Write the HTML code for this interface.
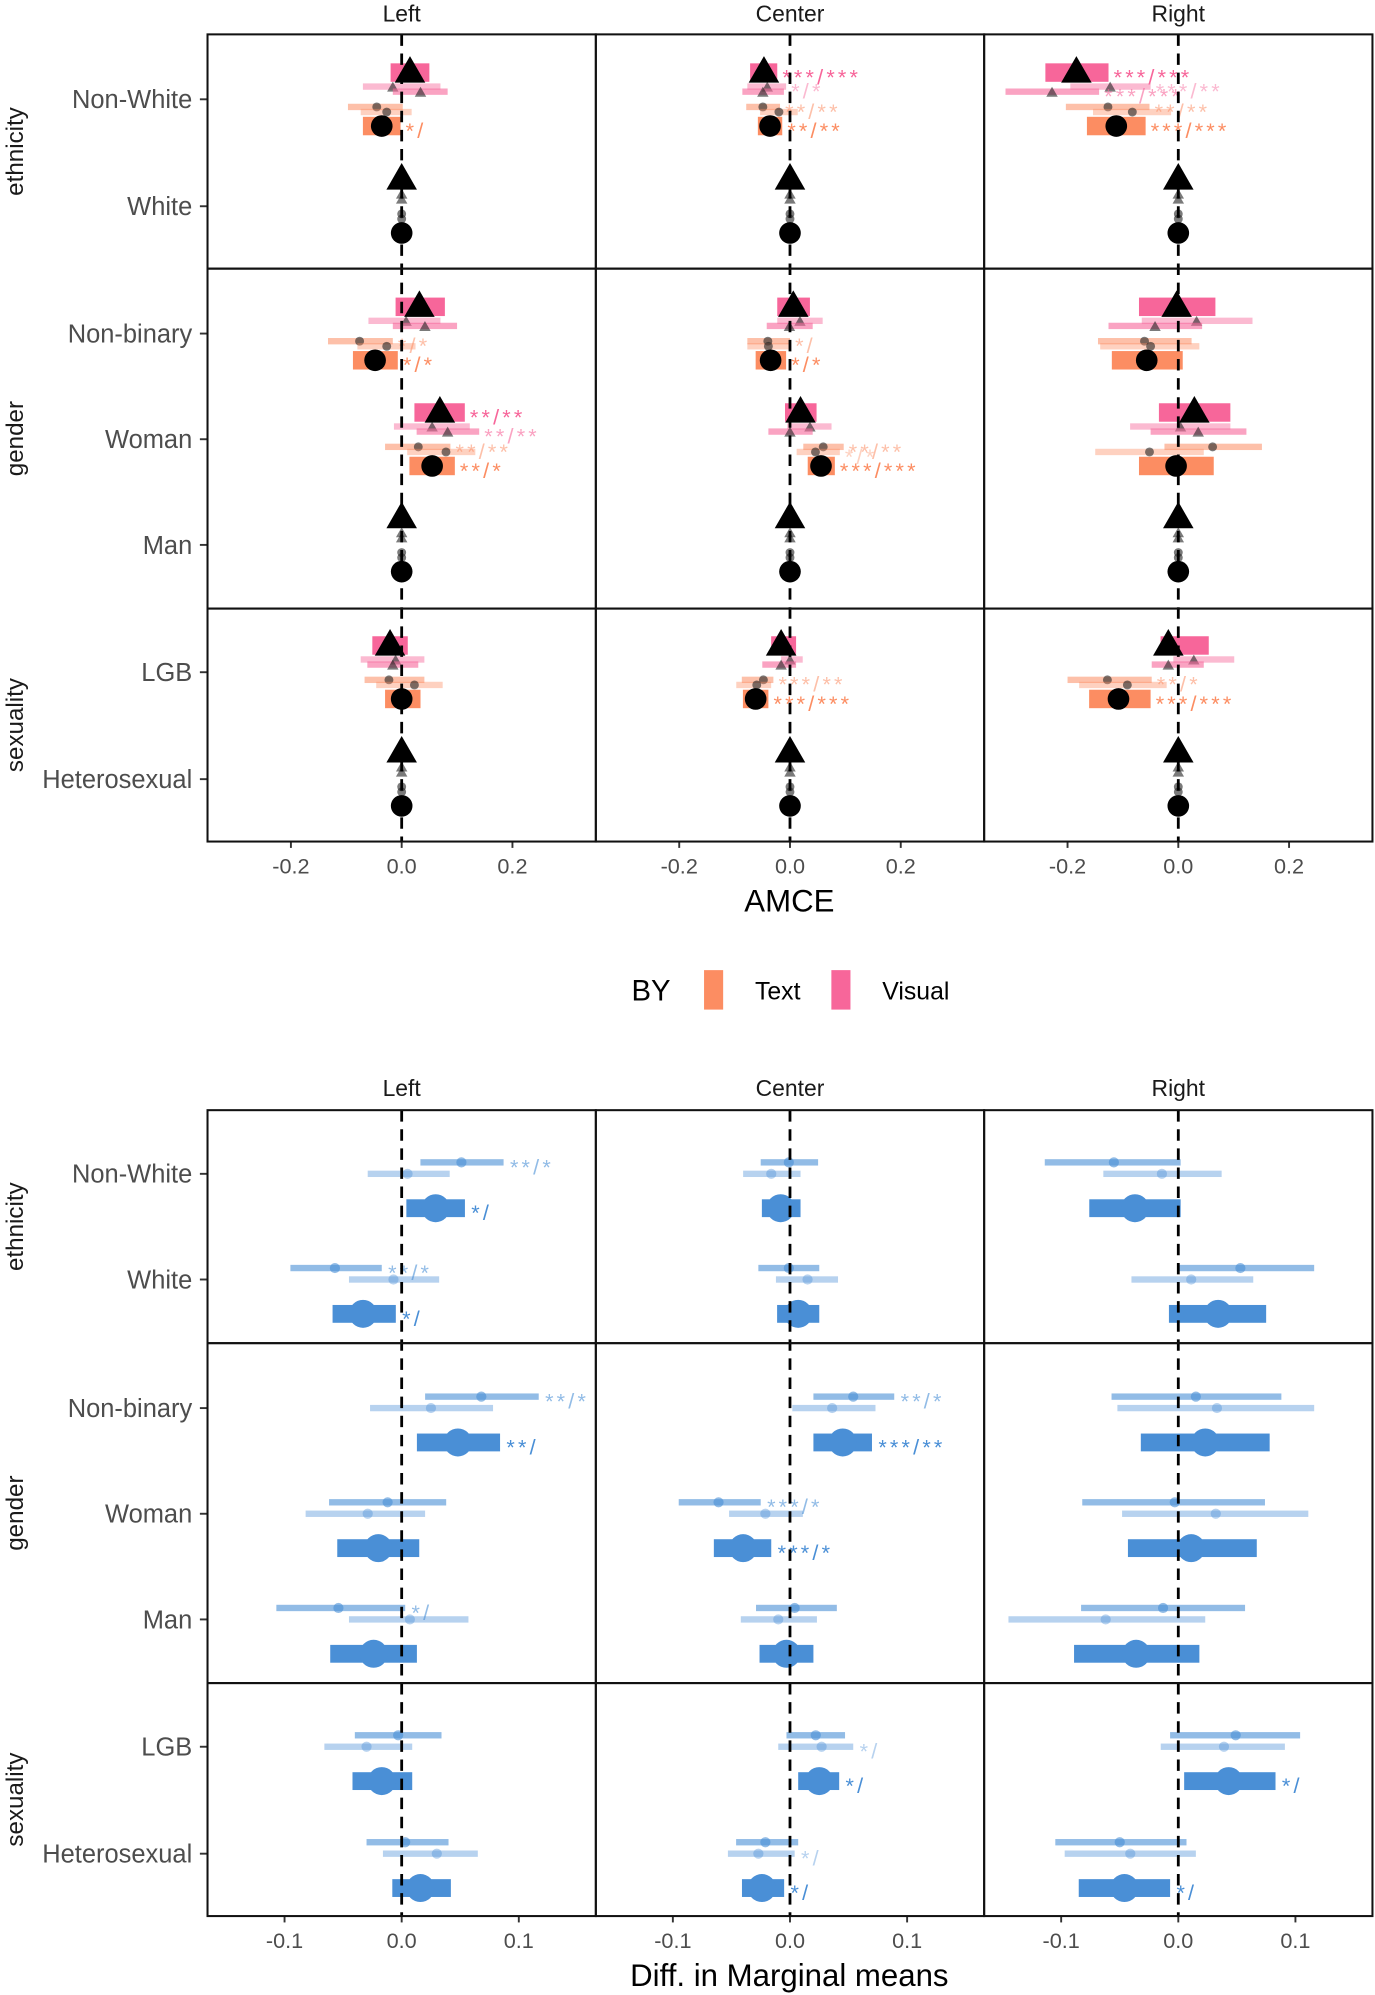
<!DOCTYPE html>
<html><head><meta charset="utf-8">
<style>
html,body{margin:0;padding:0;background:#fff;}
svg{display:block;font-family:"Liberation Sans",sans-serif;}
</style></head>
<body>
<svg id="chart" width="1375" height="1995" viewBox="0 0 1080 1567" preserveAspectRatio="none" xmlns="http://www.w3.org/2000/svg"></svg>
<script>
// ---------- DATA ----------
const columns = ["Left","Center","Right"];
const categories = ["Non-White","White","Non-binary","Woman","Man","LGB","Heterosexual"];
const groups = [["ethnicity",0,2],["gender",2,5],["sexuality",5,7]];
const topTicks = [-0.2,0.0,0.2];
const topTickLabels = ["-0.2","0.0","0.2"];
const botTicks = [-0.1,0.0,0.1];
const botTickLabels = ["-0.1","0.0","0.1"];
// [estimate, lo, hi]; null = reference level
const visualBig = [
 [[0.015,-0.02,0.05],null,[0.032,-0.011,0.078],[0.069,0.023,0.114],null,[-0.021,-0.053,0.011],null],
 [[-0.047,-0.072,-0.023],null,[0.006,-0.023,0.036],[0.019,-0.009,0.048],null,[-0.016,-0.034,0.011],null],
 [[-0.184,-0.24,-0.126],null,[-0.003,-0.071,0.067],[0.029,-0.035,0.094],null,[-0.018,-0.032,0.055],null]];
const visualL1 = [
 [[-0.016,-0.07,0.07],null,[0.008,-0.06,0.07],[0.055,-0.014,0.123],null,[-0.011,-0.074,0.041],null],
 [[-0.041,-0.077,-0.007],null,[0.018,-0.023,0.059],[0.036,-0.005,0.075],null,[0.0,-0.016,0.023],null],
 [[-0.123,-0.195,-0.05],null,[0.033,-0.066,0.134],[0.004,-0.087,0.094],null,[0.028,-0.009,0.101],null]];
const visualL2 = [
 [[0.034,-0.016,0.083],null,[0.042,-0.016,0.1],[0.083,0.027,0.14],null,[-0.016,-0.062,0.030],null],
 [[-0.049,-0.086,-0.011],null,[-0.001,-0.042,0.041],[0.0,-0.039,0.041],null,[-0.016,-0.05,0.011],null],
 [[-0.228,-0.312,-0.143],null,[-0.042,-0.126,0.043],[0.036,-0.05,0.123],null,[-0.018,-0.048,0.046],null]];
const textL1 = [
 [[-0.045,-0.097,0.002],null,[-0.076,-0.133,-0.016],[0.03,-0.03,0.088],null,[-0.023,-0.067,0.041],null],
 [[-0.049,-0.079,-0.018],null,[-0.04,-0.077,0.0],[0.06,0.024,0.097],null,[-0.048,-0.087,-0.030],null],
 [[-0.127,-0.203,-0.052],null,[-0.061,-0.145,0.024],[0.062,-0.025,0.151],null,[-0.128,-0.2,-0.048],null]];
const textL2 = [
 [[-0.027,-0.074,0.018],null,[-0.027,-0.08,0.025],[0.08,0.01,0.133],null,[0.023,-0.046,0.074],null],
 [[-0.02,-0.054,0.014],null,[-0.039,-0.077,0.002],[0.046,0.012,0.09],null,[-0.060,-0.097,-0.034],null],
 [[-0.083,-0.154,-0.013],null,[-0.05,-0.141,0.038],[-0.052,-0.15,0.046],null,[-0.092,-0.179,-0.021],null]];
const textBig = [
 [[-0.036,-0.07,-0.002],null,[-0.048,-0.088,-0.007],[0.055,0.014,0.096],null,[0.0,-0.030,0.034],null],
 [[-0.036,-0.058,-0.014],null,[-0.035,-0.062,-0.007],[0.056,0.032,0.081],null,[-0.062,-0.085,-0.039],null],
 [[-0.112,-0.165,-0.059],null,[-0.057,-0.12,0.008],[-0.004,-0.071,0.064],null,[-0.108,-0.161,-0.05],null]];
const annVisualBig = [["","","","**/**","","",""],["***/***","","","","","",""],["***/***","","","","","",""]];
const annVisualL1 = [["","","","","","",""],["*/*","","","","","",""],["***/**","","","","","",""]];
const annVisualL2 = [["","","","**/**","","",""],["","","","","","",""],["***/***","","","","","",""]];
const annTextL1 = [["","","*/*","**/**","","",""],["**/**","","*/","**/**","","***/**",""],["**/**","","","","","**/*",""]];
const annTextL2 = [["","","","","","",""],["","","","*/*","","",""],["","","","","","",""]];
const annTextBig = [["*/","","*/*","**/*","","",""],["**/**","","*/*","***/***","","***/***",""],["***/***","","","","","***/***",""]];
// bottom: marginal means differences
const mmL1 = [
 [[0.051,0.016,0.087],[-0.057,-0.095,-0.017],[0.068,0.020,0.117],[-0.012,-0.062,0.038],[-0.054,-0.107,0.003],[-0.003,-0.040,0.034],[0.003,-0.030,0.040]],
 [[-0.001,-0.025,0.024],[-0.001,-0.027,0.025],[0.054,0.020,0.089],[-0.061,-0.095,-0.025],[0.004,-0.029,0.040],[0.022,-0.003,0.047],[-0.021,-0.046,0.007]],
 [[-0.055,-0.114,0.002],[0.053,0.001,0.116],[0.015,-0.057,0.088],[-0.003,-0.082,0.074],[-0.013,-0.083,0.057],[0.049,-0.007,0.104],[-0.050,-0.105,0.007]]];
const mmL2 = [
 [[0.005,-0.029,0.041],[-0.007,-0.045,0.032],[0.025,-0.027,0.078],[-0.029,-0.082,0.020],[0.007,-0.045,0.057],[-0.030,-0.066,0.009],[0.030,-0.016,0.065]],
 [[-0.016,-0.040,0.009],[0.015,-0.012,0.041],[0.036,0.002,0.073],[-0.021,-0.052,0.011],[-0.010,-0.042,0.023],[0.027,-0.010,0.054],[-0.027,-0.053,0.004]],
 [[-0.014,-0.064,0.037],[0.011,-0.040,0.064],[0.033,-0.052,0.116],[0.032,-0.048,0.111],[-0.062,-0.145,0.023],[0.039,-0.015,0.091],[-0.041,-0.097,0.015]]];
const mmBig = [
 [[0.029,0.004,0.054],[-0.033,-0.059,-0.005],[0.048,0.013,0.084],[-0.020,-0.055,0.015],[-0.024,-0.061,0.013],[-0.017,-0.042,0.009],[0.016,-0.008,0.042]],
 [[-0.008,-0.024,0.009],[0.007,-0.011,0.025],[0.045,0.020,0.070],[-0.040,-0.065,-0.016],[-0.003,-0.026,0.020],[0.025,0.007,0.042],[-0.024,-0.041,-0.005]],
 [[-0.037,-0.076,0.002],[0.034,-0.008,0.075],[0.023,-0.032,0.078],[0.011,-0.043,0.067],[-0.036,-0.089,0.018],[0.043,0.005,0.083],[-0.046,-0.085,-0.007]]];
const annMmL1 = [["**/*","**/*","**/*","","*/","",""],["","","**/*","***/*","","",""],["","","","","","",""]];
const annMmL2 = [["","","","","","",""],["","","","","","*/","*/"],["","","","","","",""]];
const annMmBig = [["*/","*/","**/","","","",""],["","","***/**","***/*","","*/","*/"],["","","","","","*/","*/"]];

// ---------- LAYOUT ----------
const NS="http://www.w3.org/2000/svg";
const svg=document.getElementById('chart');
const colX=[163,468,773,1078];
const PINK="#f7669a", ORANGE="#fc8d62", BLUE="#4a8fd6";
function mk(tag,attrs,parent){const e=document.createElementNS(NS,tag);for(const k in attrs)e.setAttribute(k,attrs[k]);(parent||svg).appendChild(e);return e;}
function txt(s,attrs,parent){const e=mk('text',attrs,parent);e.textContent=s;return e;}

function drawBlock(cfg){
  const {top,bottom,rowB,catY,scale,ticks,tickLabels,title,titleY,stripY}=cfg;
  const xs=(c,v)=>(colX[c]+colX[c+1])/2+v*scale;
  columns.forEach((c,i)=>{const t=txt(c,{x:(colX[i]+colX[i+1])/2,y:stripY,'font-size':18,'text-anchor':'middle',fill:'#1a1a1a'});
    
    });
  categories.forEach((c,i)=>{const t=txt(c,{x:151,y:catY[i]+7,'font-size':20,'text-anchor':'end',fill:'#4d4d4d'});
    
    
    mk('line',{x1:157,x2:163,y1:catY[i],y2:catY[i],stroke:'#333','stroke-width':1.5});});
  groups.forEach((g,i)=>{const cy=(rowB[i]+rowB[i+1])/2;
    const t=txt(g[0],{x:0,y:0,'font-size':19,'text-anchor':'middle',fill:'#1a1a1a',transform:`translate(18,${cy}) rotate(-90)`});
    
    });
  for(let c=0;c<3;c++){ticks.forEach((tv,k)=>{const x=xs(c,tv);
    mk('line',{x1:x,x2:x,y1:bottom,y2:bottom+5,stroke:'#333','stroke-width':1.5});
    const t=txt(tickLabels[k],{x:x,y:bottom+25,'font-size':17,'text-anchor':'middle',fill:'#4d4d4d'});
    
    });}
  const at=txt(title,{x:620,y:titleY,'font-size':24.5,'text-anchor':'middle',fill:'#000'});
  
  
  return xs;
}
function frame(top,bottom,rowB){
  for(let c=0;c<3;c++)for(let r=0;r<3;r++)
    mk('rect',{x:colX[c],y:rowB[r],width:colX[c+1]-colX[c],height:rowB[r+1]-rowB[r],fill:'none',stroke:'#111','stroke-width':1.6});
}
function zeroLines(xs,top,bottom){
  for(let c=0;c<3;c++){const l=mk('line',{x1:xs(c,0),x2:xs(c,0),y1:top,y2:bottom,stroke:'#000','stroke-width':2.2,'stroke-dasharray':'9,6'});
    
    }
}
function tri(x,y,s,fill,op){const h=s*0.87;return mk('polygon',{points:`${x},${y-h*0.62} ${x-s/2},${y+h*0.38} ${x+s/2},${y+h*0.38}`,fill:fill,'fill-opacity':op});}
function ann(s,x,y,color,op,fs){if(!s)return;const t=txt(s,{x:x,y:y+fs*0.55,'font-size':fs,fill:color,'fill-opacity':op,'letter-spacing':'2.5'});
  
  }

// ===== TOP =====
const tTop=27,tBot=661,tRow=[27,211,478,661];
const tCat=[78,162,262,345,428,528,612];
const xsT=drawBlock({id:'-amce',top:tTop,bottom:tBot,rowB:tRow,catY:tCat,scale:435,ticks:topTicks,tickLabels:topTickLabels,title:'AMCE',titleY:716,stripY:17});
for(let c=0;c<3;c++){
  categories.forEach((cat,i)=>{
    const y=tCat[i];
    const series=[
      [visualL1,-10,5,PINK,0.45,annVisualL1,'tri-s'],
      [visualL2,-6,5,PINK,0.6,annVisualL2,'tri-s2'],
      [textL1,6,5,ORANGE,0.55,annTextL1,'dot-s'],
      [textL2,10,5,ORANGE,0.4,annTextL2,'dot-s2'],
      [visualBig,-21,14.5,PINK,1,annVisualBig,'tri-b'],
      [textBig,21,14.5,ORANGE,1,annTextBig,'dot-b']];
    series.forEach(s=>{
      const d=s[0][c][i]; const yy=y+s[1];
      if(d){const r=mk('rect',{x:xsT(c,d[1]),y:yy-s[2]/2,width:xsT(c,d[2])-xsT(c,d[1]),height:s[2],fill:s[3],'fill-opacity':s[4]});
        
        
        ann(s[5][c][i],xsT(c,d[2])+4,yy,s[3],s[4],17);}
      const v=d?d[0]:0, x=xsT(c,v);
      if(s[6]==='tri-b')tri(x,yy,24,'#000',1);
      else if(s[6]==='dot-b')mk('circle',{cx:x,cy:yy,r:8.5,fill:'#000'});
      else if(s[6].startsWith('tri'))tri(x,yy+1,9,'#222',0.6);
      else mk('circle',{cx:x,cy:yy,r:3.5,fill:'#222','fill-opacity':0.6});
    });
  });
}
zeroLines(xsT,tTop,tBot);
frame(tTop,tBot,tRow);

// ===== LEGEND =====
const lg=mk('g',{});


txt('BY',{x:496,y:786,'font-size':23,fill:'#000'},lg);
const l1=mk('rect',{x:553,y:762,width:15,height:31,fill:ORANGE},lg);


txt('Text',{x:593,y:785,'font-size':19.5,fill:'#000'},lg);
const l2=mk('rect',{x:653,y:762,width:15,height:31,fill:PINK},lg);


txt('Visual',{x:693,y:785,'font-size':19.5,fill:'#000'},lg);

// ===== BOTTOM =====
const bTop=872,bBot=1505,bRow=[872,1055,1322,1505];
const bCat=[922,1005,1106,1189,1272,1372,1456];
const xsB=drawBlock({id:'-mm',top:bTop,bottom:bBot,rowB:bRow,catY:bCat,scale:920,ticks:botTicks,tickLabels:botTickLabels,title:'Diff. in Marginal means',titleY:1560,stripY:861});
for(let c=0;c<3;c++){
  categories.forEach((cat,i)=>{
    const y=bCat[i];
    [[mmL1,-9,5,0.6,4,annMmL1],[mmL2,0,5,0.4,4,annMmL2],[mmBig,27,14,1,11,annMmBig]].forEach(s=>{
      const d=s[0][c][i], yy=y+s[1];
      const r=mk('rect',{x:xsB(c,d[1]),y:yy-s[2]/2,width:xsB(c,d[2])-xsB(c,d[1]),height:s[2],fill:BLUE,'fill-opacity':s[3]});
      
      
      const p=mk('circle',{cx:xsB(c,d[0]),cy:yy,r:s[4],fill:BLUE,'fill-opacity':s[3]});
      
      
      ann(s[5][c][i],xsB(c,d[2])+5,yy,BLUE,s[3],17);
    });
  });
}
zeroLines(xsB,bTop,bBot);
frame(bTop,bBot,bRow);
</script>
</body></html>
